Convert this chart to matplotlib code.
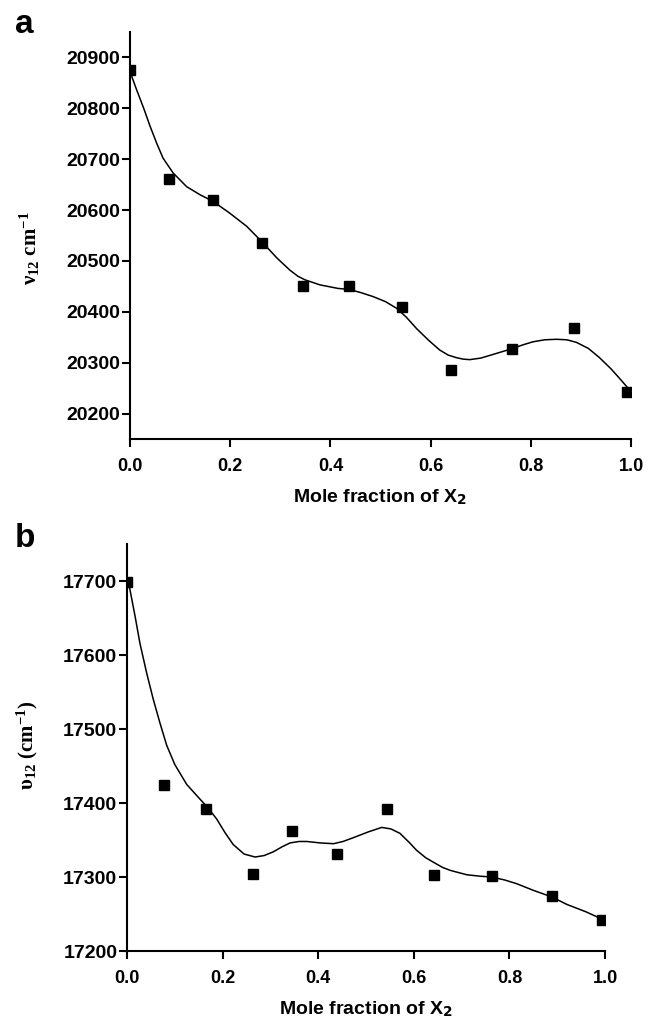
import numpy as np
from matplotlib import pyplot as plt

plt.rcParams.update({'font.family': 'Liberation Sans', 'font.weight': 'bold',
                     'mathtext.fontset': 'custom', 'mathtext.rm': 'Liberation Serif:bold',
                     'mathtext.default': 'rm'})

# panel a: measured points
xa = [0.0, 0.078, 0.166, 0.263, 0.345, 0.437, 0.543, 0.640, 0.762, 0.887, 0.993]
ya = [20876, 20662, 20620, 20535, 20451, 20451, 20409, 20285, 20327, 20368, 20242]
# panel a: smoothed curve
cxa = [0.0, 0.013, 0.027, 0.040, 0.053, 0.066, 0.086, 0.113, 0.140, 0.166, 0.199,
       0.233, 0.263, 0.293, 0.319, 0.335, 0.349, 0.379, 0.415, 0.437, 0.460, 0.485,
       0.510, 0.532, 0.552, 0.572, 0.595, 0.618, 0.635, 0.651, 0.665, 0.678, 0.700,
       0.724, 0.744, 0.764, 0.784, 0.804, 0.828, 0.851, 0.872, 0.891, 0.915, 0.937,
       0.960, 0.980, 0.994]
cya = [20872, 20837, 20801, 20765, 20732, 20702, 20673, 20646, 20630, 20617, 20594,
       20568, 20538, 20506, 20482, 20470, 20463, 20453, 20446, 20444, 20438, 20430,
       20420, 20407, 20389, 20367, 20345, 20325, 20315, 20310, 20307, 20306, 20309,
       20316, 20322, 20328, 20335, 20341, 20345, 20346, 20345, 20340, 20328, 20310,
       20288, 20266, 20250]

# panel b: measured points
xb = [0.0, 0.077, 0.165, 0.264, 0.346, 0.439, 0.544, 0.642, 0.763, 0.889, 0.994]
yb = [17698, 17425, 17392, 17304, 17362, 17331, 17392, 17303, 17301, 17274, 17242]
# panel b: smoothed curve
cxb = [0.0, 0.006, 0.017, 0.027, 0.041, 0.055, 0.069, 0.083, 0.100, 0.125, 0.153,
       0.170, 0.188, 0.205, 0.222, 0.245, 0.268, 0.287, 0.306, 0.325, 0.341, 0.360,
       0.376, 0.405, 0.432, 0.452, 0.473, 0.505, 0.533, 0.552, 0.571, 0.590, 0.606,
       0.625, 0.641, 0.660, 0.676, 0.711, 0.740, 0.763, 0.790, 0.815, 0.850, 0.889,
       0.920, 0.960, 0.994]
cyb = [17700, 17689, 17652, 17616, 17576, 17540, 17508, 17478, 17452, 17425, 17405,
       17393, 17378, 17360, 17344, 17331, 17327, 17329, 17334, 17341, 17346, 17348,
       17348, 17346, 17345, 17348, 17353, 17361, 17367, 17365, 17359, 17347, 17336,
       17326, 17320, 17313, 17309, 17303, 17301, 17300, 17296, 17291, 17282, 17273,
       17263, 17253, 17243]

fig = plt.figure(figsize=(6.48, 10.21), dpi=100)
W, H = 648.0, 1021.0
ax_a = fig.add_axes([130/W, 1-439/H, 501/W, 407/H])
ax_b = fig.add_axes([127/W, 1-951/H, 478/W, 407/H])


def style(ax, ylim, yticks):
    ax.set_xlim(0, 1.0)
    ax.set_ylim(*ylim)
    ax.set_yticks(yticks)
    ax.set_xticks([0.0, 0.2, 0.4, 0.6, 0.8, 1.0])
    ax.set_xticklabels(['0.0', '0.2', '0.4', '0.6', '0.8', '1.0'])
    for s in ['top', 'right']:
        ax.spines[s].set_visible(False)
    for s in ['left', 'bottom']:
        ax.spines[s].set_linewidth(1.5)
    ax.tick_params(axis='both', direction='out', length=5.5, width=1.5)
    ax.tick_params(axis='x', pad=8, labelsize=13)
    ax.tick_params(axis='y', pad=1.5, labelsize=14)
    ax.set_xlabel('Mole fraction of X$_{\\mathsf{2}}$', fontsize=14, fontweight='bold')
    ax.xaxis.set_label_coords(0.5, -0.118)


ax_a.plot(cxa, cya, color='black', lw=1.1)
ax_a.plot(xa, ya, 's', color='black', ms=7.5)
style(ax_a, (20150, 20950), [20200, 20300, 20400, 20500, 20600, 20700, 20800, 20900])
ax_a.set_ylabel('ν$_{12}$ cm$^{-1}$', family='Liberation Serif', fontsize=15, fontweight='bold')
ax_a.yaxis.set_label_coords(-0.176, 0.47)

ax_b.plot(cxb, cyb, color='black', lw=1.1)
ax_b.plot(xb, yb, 's', color='black', ms=7.5)
style(ax_b, (17200, 17750), [17200, 17300, 17400, 17500, 17600, 17700])
ax_b.set_ylabel('υ$_{12}$ (cm$^{-1}$)', family='Liberation Serif', fontsize=15, fontweight='bold')
ax_b.yaxis.set_label_coords(-0.182, 0.506)

fig.text(15/W, 1-33/H, 'a', fontsize=24, fontweight='bold', va='baseline')
fig.text(15/W, 1-547/H, 'b', fontsize=24, fontweight='bold', va='baseline')

fig.savefig('out.png', dpi=100)
